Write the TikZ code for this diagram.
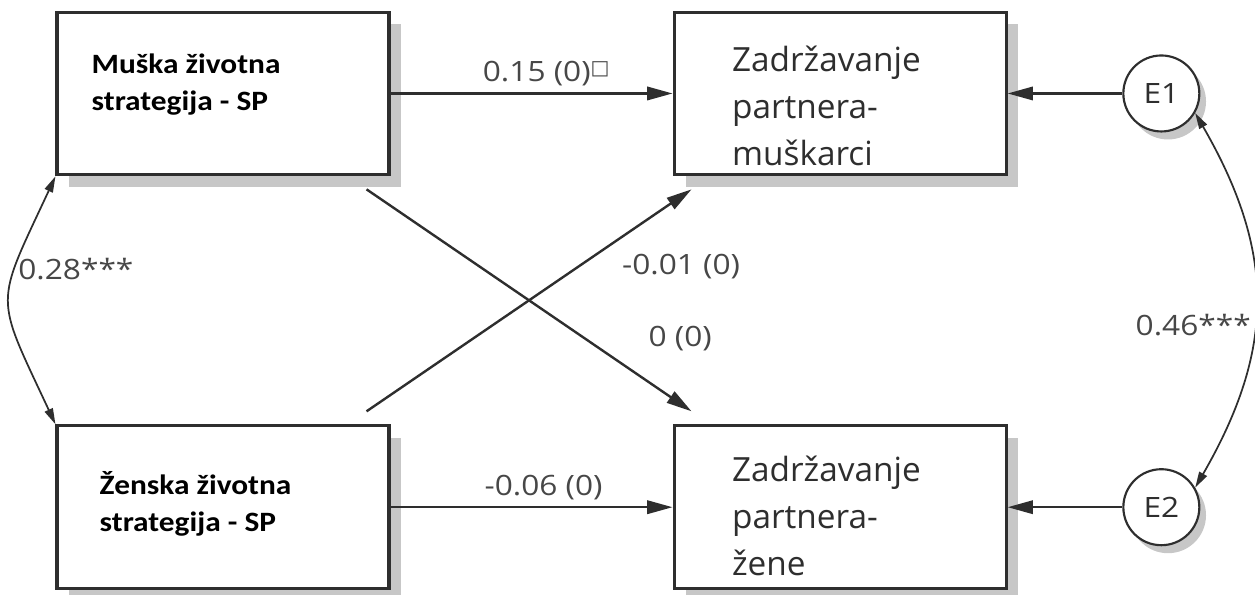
\documentclass[tikz,border=0pt]{standalone}
\usepackage{fontspec}
\newfontfamily\boxfont[FakeStretch=1.12]{Carlito}
\newfontfamily\lblfont[FakeStretch=1.13]{Open Sans}
\newfontfamily\keepfont{Open Sans}
\newfontfamily\symfont{DejaVu Sans}
\usetikzlibrary {arrows.meta,positioning,shadows}

\begin{document}
\begin{tikzpicture}[
    box/.style={draw=black!82, line width=2.3pt, fill=white,
      minimum width=249pt, minimum height=122pt, inner sep=0pt,
      drop shadow={shadow xshift=9pt, shadow yshift=-9pt, fill=black!22, opacity=1}},
    err/.style={circle, draw=black!82, line width=1.6pt, fill=white,
      minimum size=57pt, inner sep=0pt, text=black!82,
      font=\lblfont\fontsize{21}{21}\selectfont,
      drop shadow={shadow xshift=5pt, shadow yshift=-6pt, fill=black!22, opacity=1}},
    strat/.style={inner sep=0pt, anchor=base west, align=left,
      font=\boxfont\bfseries\fontsize{21}{28}\selectfont},
    keep/.style={inner sep=0pt, anchor=base west, align=left, text=black!82,
      font=\keepfont\fontsize{25}{35}\selectfont},
    coef/.style={text=black!72, font=\lblfont\fontsize{21}{21}\selectfont},
    reg/.style={draw=black!82, line width=1.8pt, -{Triangle[length=19pt,width=10pt]}},
    cov/.style={draw=black!82, line width=1.3pt,
      {Triangle[length=12pt,width=6.5pt]}-{Triangle[length=12pt,width=6.5pt]}}
  ]
  \useasboundingbox (0,0) rectangle (941.25pt,-446.25pt);

  \node [box] (A) at (167.25pt,-70.1pt) {};
  \node [box] (B) [right=211.5pt of A] {};
  \node [box] (C) [below=186pt of A] {};
  \node [box] (D) [right=211.5pt of C] {};
  \node [err] (E1) [right=86pt of B] {E1};
  \node [err] (E2) [right=86pt of D] {E2};

  \node [strat] (Atxt) at ([xshift=27pt,yshift=-75pt]A.north west) {Muška životna\\strategija - SP};
  \node [strat] (Ctxt) at ([xshift=33pt,yshift=-80.25pt]C.north west) {Ženska životna\\strategija - SP};
  \node [keep] (Btxt) at ([xshift=44.5pt,yshift=-116pt]B.north west) {Zadržavanje\\partnera-\\muškarci};
  \node [keep] (Dtxt) at ([xshift=44.5pt,yshift=-113pt]D.north west) {Zadržavanje\\partnera-\\žene};

  \draw [reg] (A) -- node [coef, above=1.5pt, xshift=11pt] (l015)
    {0.15 (0)\raisebox{5pt}{\symfont\fontsize{15}{15}\selectfont □}} (B);
  \draw [reg] (C) -- node [coef, above=1.5pt, xshift=9pt] (l006) {-0.06 (0)} (D);
  \draw [reg] (E1) -- (B);
  \draw [reg] (E2) -- (D);
  \draw [reg] ([xshift=-18pt,yshift=-9.75pt]A.south east)
    -- node [coef, pos=0.67, right=44pt] (l000) {0 (0)}
    ([xshift=14.25pt,yshift=9.75pt]D.north west);
  \draw [reg] ([xshift=-18pt,yshift=9.75pt]C.north east)
    -- node [coef, pos=0.65, right=29pt] (l001) {-0.01 (0)}
    ([xshift=14.25pt,yshift=-9.75pt]B.south west);

  \draw [cov] (A.south west) to [out=-115, in=115, looseness=1.5]
    node [coef, pos=0.33, anchor=west, inner sep=2pt] (l028) {0.28***} (C.north west);
  \draw [cov] (E1.-30) to [out=-60, in=60, looseness=1.1]
    node [coef, pos=0.57, anchor=east, inner sep=2pt] (l046) {0.46***} (E2.30);

\end{tikzpicture}
\end{document}
